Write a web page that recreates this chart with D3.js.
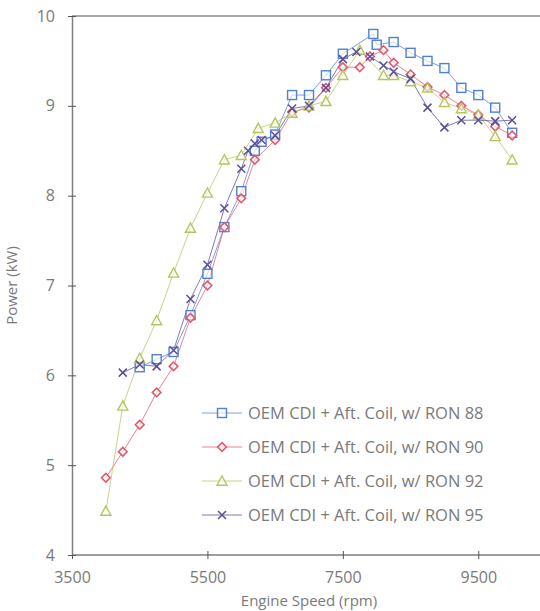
<!DOCTYPE html>
<html>
<head>
<meta charset="utf-8">
<script src="https://cdn.jsdelivr.net/npm/d3@7"></script>
<style>
  body { margin: 0; background: #fff; overflow: hidden; }
  text { font-family: "Open Sans", sans-serif; fill: #7a7a7a; }
</style>
</head>
<body>
<script>
// data
const rpm88 = [4500, 4750, 5000, 5250, 5500, 5750, 6000, 6200, 6300, 6500, 6750, 7000, 7250, 7500, 7950, 8000, 8250, 8500, 8750, 9000, 9250, 9500, 9750, 10000];
const pow88 = [6.09, 6.18, 6.26, 6.67, 7.13, 7.65, 8.05, 8.5, 8.6, 8.68, 9.12, 9.12, 9.34, 9.58, 9.8, 9.68, 9.71, 9.59, 9.5, 9.42, 9.2, 9.12, 8.98, 8.7];

const rpm90 = [4000, 4250, 4500, 4750, 5000, 5250, 5500, 5750, 6000, 6200, 6500, 6750, 7000, 7250, 7500, 7750, 7900, 8100, 8250, 8500, 8750, 9000, 9250, 9500, 9750, 10000];
const pow90 = [4.86, 5.15, 5.45, 5.81, 6.1, 6.64, 7.0, 7.65, 7.97, 8.4, 8.62, 8.93, 8.98, 9.2, 9.43, 9.43, 9.55, 9.62, 9.48, 9.35, 9.21, 9.12, 9.0, 8.9, 8.77, 8.67];

const rpm92 = [4000, 4250, 4500, 4750, 5000, 5250, 5500, 5750, 6000, 6250, 6500, 6750, 7000, 7250, 7500, 7750, 8100, 8250, 8500, 8750, 9000, 9250, 9500, 9750, 10000];
const pow92 = [4.49, 5.66, 6.19, 6.61, 7.14, 7.64, 8.03, 8.4, 8.45, 8.75, 8.81, 8.92, 9.0, 9.05, 9.34, 9.62, 9.34, 9.34, 9.27, 9.2, 9.04, 8.97, 8.9, 8.66, 8.4];

const rpm95 = [4250, 4500, 4750, 5000, 5250, 5500, 5750, 6000, 6100, 6200, 6300, 6500, 6750, 7000, 7250, 7500, 7700, 7900, 8100, 8250, 8500, 8750, 9000, 9250, 9500, 9750, 10000];
const pow95 = [6.03, 6.12, 6.1, 6.28, 6.85, 7.23, 7.86, 8.3, 8.5, 8.58, 8.62, 8.67, 8.97, 9.0, 9.2, 9.52, 9.6, 9.55, 9.45, 9.38, 9.3, 8.98, 8.76, 8.84, 8.84, 8.83, 8.84];

const seriesNames = ['OEM CDI + Aft. Coil, w/ RON 88', 'OEM CDI + Aft. Coil, w/ RON 90', 'OEM CDI + Aft. Coil, w/ RON 92', 'OEM CDI + Aft. Coil, w/ RON 95'];
const colors = ['#5280d0', '#e05a6e', '#b3c65e', '#5a4d9a'];
const shapes = ['square', 'diamond', 'triangle', 'cross'];
const xTicks = [3500, 5500, 7500, 9500];
const yTicks = [4, 5, 6, 7, 8, 9, 10];

const w = 540, h = 611;
const svg = d3.select('body').append('svg').attr('width', w).attr('height', h);

const x = d3.scaleLinear().domain([3500, 10500]).range([72, 546]);
const y = d3.scaleLinear().domain([4, 10]).range([555, 16]);

const series = [[rpm88, pow88], [rpm90, pow90], [rpm92, pow92], [rpm95, pow95]].map((s, i) => ({
  name: seriesNames[i], color: colors[i], shape: shapes[i],
  pts: s[0].map((r, j) => ({rpm: r, p: s[1][j]}))
}));

// top border line
svg.append('line').attr('x1', x(3500)).attr('x2', w).attr('y1', y(10)).attr('y2', y(10))
  .attr('stroke', '#8a8a8a').attr('stroke-width', 1.5);

// axes
const xAxis = d3.axisBottom(x).tickValues(xTicks).tickFormat(d3.format('d')).tickSizeInner(4).tickSizeOuter(0).tickPadding(13);
const yAxis = d3.axisLeft(y).tickValues(yTicks).tickFormat(d3.format('d')).tickSizeInner(4).tickSizeOuter(0).tickPadding(13);

const gx = svg.append('g').attr('transform', `translate(0,${y(4)})`).call(xAxis);
const gy = svg.append('g').attr('transform', `translate(${x(3500)},0)`).call(yAxis);
[gx, gy].forEach(g => {
  g.select('.domain').attr('stroke', '#7f7f7f').attr('stroke-width', 1.5);
  g.selectAll('.tick line').attr('stroke', '#555');
  g.selectAll('.tick text').style('font-size', '16px').style('font-family', '"Open Sans", sans-serif').attr('fill', '#8c8c8c');
});
gx.select('.domain').attr('d', `M${x(3500)},0H${w}`);
gx.selectAll('.tick line').attr('y1', -4);
gy.selectAll('.tick line').attr('x1', 4).attr('x2', -4);

svg.append('text').attr('x', 309).attr('y', 606).attr('text-anchor', 'middle')
  .style('font-size', '15px').attr('fill', '#8c8c8c').text('Engine Speed (rpm)');
svg.append('text').attr('transform', `translate(17,${(y(4) + y(10)) / 2}) rotate(-90)`)
  .attr('text-anchor', 'middle').style('font-size', '15px').attr('fill', '#8c8c8c').text('Power (kW)');

function marker(g, shape, color) {
  if (shape === 'square') {
    g.append('rect').attr('x', -4.5).attr('y', -4.5).attr('width', 9).attr('height', 9)
      .attr('fill', '#fff').attr('fill-opacity', 0.6).attr('stroke', color).attr('stroke-width', 1.4);
  } else if (shape === 'diamond') {
    g.append('path').attr('d', d3.symbol(d3.symbolDiamond2, 48)())
      .attr('fill', '#fff').attr('fill-opacity', 0.6).attr('stroke', color).attr('stroke-width', 1.6);
  } else if (shape === 'triangle') {
    g.append('path').attr('d', 'M0,-5L5,4.2L-5,4.2Z')
      .attr('fill', '#fff').attr('fill-opacity', 0.6).attr('stroke', color).attr('stroke-width', 1.4);
  } else {
    g.append('path').attr('d', 'M-4,-4L4,4M-4,4L4,-4')
      .attr('stroke', color).attr('stroke-width', 1.5).attr('fill', 'none');
  }
}

const line = d3.line().x(d => x(d.rpm)).y(d => y(d.p));
series.forEach(s => {
  svg.append('path').datum(s.pts).attr('d', line)
    .attr('fill', 'none').attr('stroke', s.color).attr('stroke-opacity', 0.75).attr('stroke-width', 1);
});
series.forEach(s => {
  svg.append('g').selectAll('g').data(s.pts).join('g')
    .attr('transform', d => `translate(${x(d.rpm)},${y(d.p)})`)
    .each(function () { marker(d3.select(this), s.shape, s.color); });
});

// legend
const lg = svg.append('g');
series.forEach((s, i) => {
  const ly = 413 + i * 34;
  lg.append('line').attr('x1', 202).attr('x2', 242).attr('y1', ly).attr('y2', ly)
    .attr('stroke', s.color).attr('stroke-opacity', 0.75);
  marker(lg.append('g').attr('transform', `translate(222,${ly})`), s.shape, s.color);
  lg.append('text').attr('x', 248).attr('y', ly).attr('dy', '0.35em')
    .style('font-size', '16.5px').attr('fill', '#707070').text(s.name);
});
</script>
</body>
</html>
